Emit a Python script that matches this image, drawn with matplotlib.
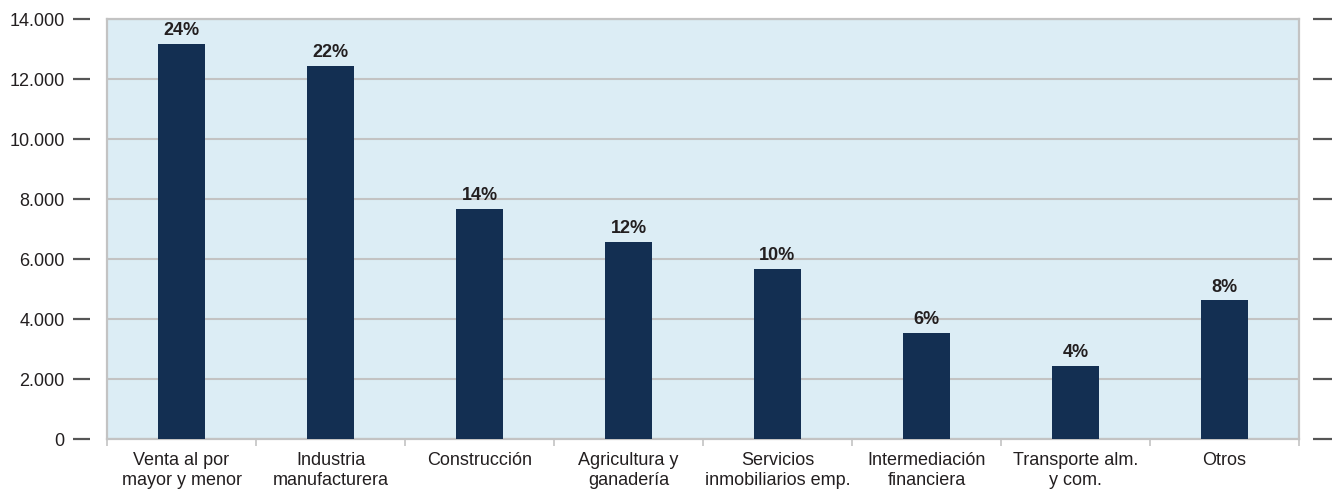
import matplotlib.pyplot as plt
import numpy as np
from matplotlib.ticker import FuncFormatter

plt.rcParams["font.family"] = ["Liberation Sans", "DejaVu Sans"]

categories = [
    "Venta al por\nmayor y menor",
    "Industria\nmanufacturera",
    "Construcción",
    "Agricultura y\nganadería",
    "Servicios\ninmobiliarios emp.",
    "Intermediación\nfinanciera",
    "Transporte alm.\ny com.",
    "Otros",
]
values = [13180, 12440, 7670, 6580, 5660, 3540, 2440, 4620]
shares = ["24%", "22%", "14%", "12%", "10%", "6%", "4%", "8%"]
yticks = [0, 2000, 4000, 6000, 8000, 10000, 12000, 14000]

BG = "#dcedf5"
BAR = "#132f52"
GRID = "#c3c3c3"
TEXT = "#231f20"

fig = plt.figure(figsize=(13.42, 4.90), dpi=100)
ax = fig.add_axes([107 / 1342, 1 - 439 / 490, (1299 - 107) / 1342, (439 - 19) / 490])
ax.set_facecolor(BG)

x = np.arange(len(categories))
ax.bar(x, values, width=0.32, color=BAR, zorder=3)
for xi, v, s in zip(x, values, shares):
    ax.annotate(s, (xi, v), xytext=(0, 3.5), textcoords="offset points",
                ha="center", va="bottom", fontsize=13, fontweight="bold",
                color=TEXT, zorder=4)

ax.set_xlim(-0.5, len(categories) - 0.5)
ax.set_ylim(0, 14000)
ax.set_yticks(yticks)
ax.yaxis.set_major_formatter(FuncFormatter(lambda v, _: f"{int(v):,}".replace(",", ".")))
ax.yaxis.grid(True, color=GRID, lw=1.5, zorder=1)
ax.set_axisbelow(True)

# category labels centred, separator ticks on the boundaries
ax.set_xticks(x)
ax.set_xticklabels(categories, fontsize=13, color=TEXT, linespacing=1.25)
ax.set_xticks(np.arange(len(categories) + 1) - 0.5, minor=True)
ax.tick_params(axis="x", which="major", length=0, pad=9)
ax.tick_params(axis="x", which="minor", length=5, width=1.2, color=GRID, direction="out")

# left value ticks sit apart from the frame
ax.spines["left"].set_position(("outward", 12.2))
ax.spines["left"].set_visible(False)
ax.tick_params(axis="y", length=12.2, width=1.6, color="#555555", labelsize=13,
               labelcolor=TEXT, pad=6)

for side in ["top", "right", "bottom"]:
    ax.spines[side].set_color(GRID)
    ax.spines[side].set_linewidth(1.6)
ax.plot([0, 0], [0, 1], transform=ax.transAxes, color=GRID, lw=1.6,
        clip_on=False, zorder=5)

# unlabelled ticks on the right side
ax2 = ax.twinx()
ax2.set_ylim(ax.get_ylim())
ax2.set_yticks(yticks)
ax2.set_yticklabels([])
for side in ["top", "left", "bottom", "right"]:
    ax2.spines[side].set_visible(False)
ax2.spines["right"].set_position(("outward", 10.1))
ax2.tick_params(axis="y", length=13.7, width=1.6, color="#555555")

fig.savefig("out.png", dpi=100, facecolor="white")
